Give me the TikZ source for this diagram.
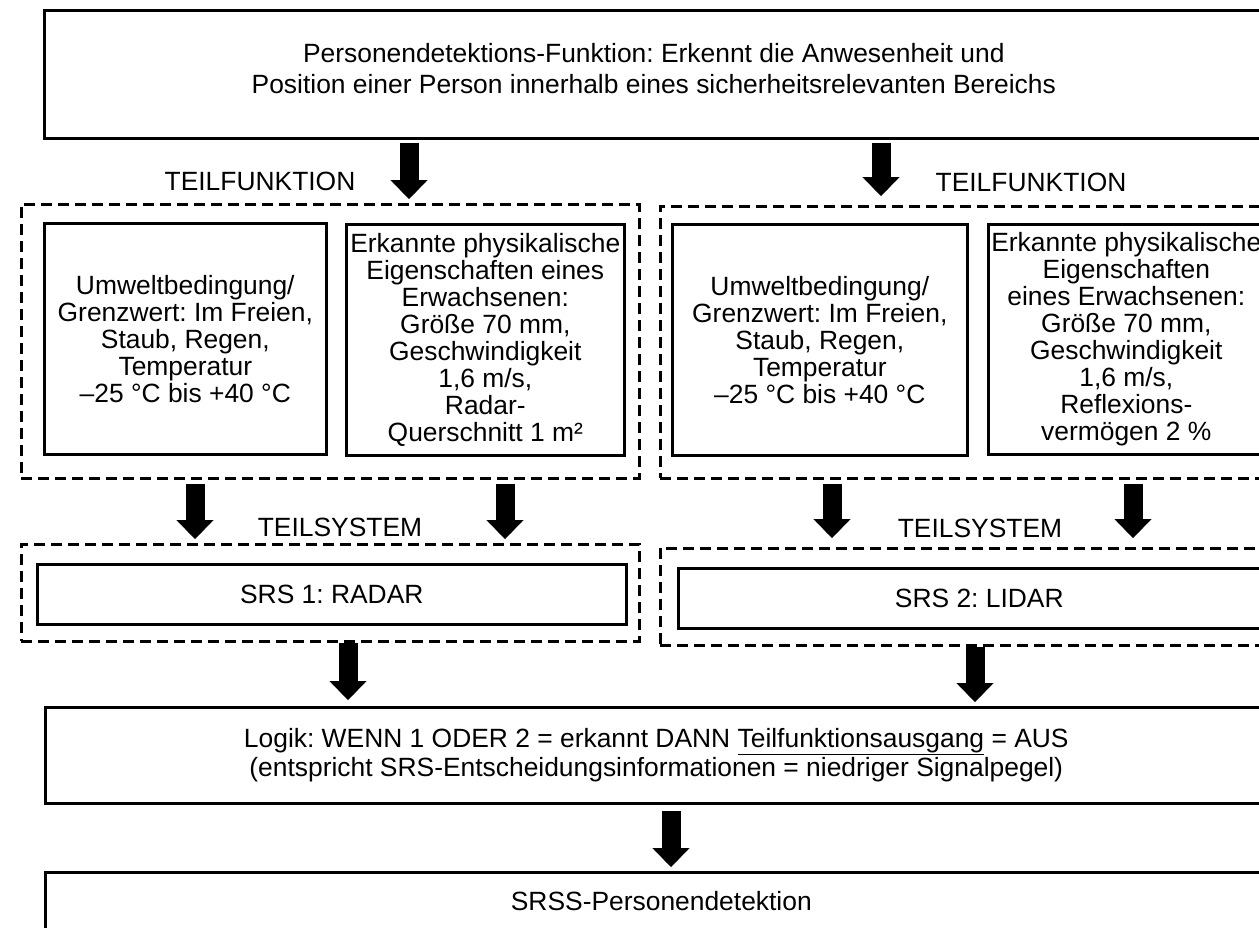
\documentclass[tikz,border=0pt]{standalone}
\usepackage{fontspec}
\setmainfont{Liberation Sans}
\frenchspacing
\usetikzlibrary{arrows.meta}

\begin{document}
\begin{tikzpicture}[x=1pt, y=-1pt,
    box/.style={draw, line width=2.6pt, anchor=north west, align=center, inner sep=0pt, font=\fontsize{26.4}{27}\selectfont},
    dashbox/.style={draw, line width=2.6pt, dash pattern=on 11pt off 6pt, anchor=north west, inner sep=0pt},
    caption/.style={anchor=base, inner sep=0pt, font=\fontsize{26.4}{27}\selectfont},
    fat/.style={line width=19pt, -{Triangle[width=37pt, length=19pt, line width=0.1pt]}}]
  \useasboundingbox (0,0) rectangle (1259,927);
  \clip (0,0) rectangle (1259,927);
  \node[box, font=\fontsize{26.4}{31}\selectfont, minimum width=1219pt, minimum height=128pt, text depth=12pt] (top) at (43,9) {Personendetektions-Funktion: Erkennt die Anwesenheit und\\Position einer Person innerhalb eines sicherheitsrelevanten Bereichs};
  % Teilfunktionen
  \node[dashbox, minimum width=618pt, minimum height=274pt] (tf1) at (20,203) {};
  \node[dashbox, minimum width=640pt, minimum height=272pt] (tf2) at (659,205) {};
  \node[caption] (tflbl1) at (260,190) {TEILFUNKTION};
  \node[caption] (tflbl2) at (1031,191) {TEILFUNKTION};
  \node[box, minimum width=282pt, minimum height=231pt] (umw1) at (43,222) {Umweltbedingung/\\Grenzwert: Im Freien,\\Staub, Regen,\\Temperatur\\–25 °C bis +40 °C};
  \node[box, minimum width=278pt, minimum height=231pt] (eig1) at (345,223) {Erkannte physikalische\\Eigenschaften eines\\Erwachsenen:\\Größe 70 mm,\\Geschwindigkeit\\1,6 m/s,\\Radar-\\Querschnitt 1 m²};
  \node[box, minimum width=295pt, minimum height=231pt] (umw2) at (671,223) {Umweltbedingung/\\Grenzwert: Im Freien,\\Staub, Regen,\\Temperatur\\–25 °C bis +40 °C};
  \node[box, minimum width=276pt, minimum height=230pt] (eig2) at (987,223) {Erkannte physikalische\\Eigenschaften\\eines Erwachsenen:\\Größe 70 mm,\\Geschwindigkeit\\1,6 m/s,\\Reflexions-\\vermögen 2 \%};
  % Teilsysteme
  \node[dashbox, minimum width=618pt, minimum height=97pt] (ts1) at (20,543) {};
  \node[dashbox, minimum width=640pt, minimum height=97pt] (ts2) at (659,547) {};
  \node[caption] (tslbl1) at (340,536) {TEILSYSTEM};
  \node[caption] (tslbl2) at (980,537) {TEILSYSTEM};
  \node[box, minimum width=589pt, minimum height=60pt] (srs1) at (36,563) {SRS 1: RADAR};
  \node[box, minimum width=602pt, minimum height=60pt] (srs2) at (677,567) {SRS 2: LIDAR};
  \node[box, font=\fontsize{26.4}{29}\selectfont, minimum width=1222pt, minimum height=96pt] (logik) at (44,706) {Logik: WENN 1 ODER 2 = erkannt DANN \underline{Teilfunktionsausgang} = AUS\\(entspricht SRS-Entscheidungsinformationen = niedriger Signalpegel)};
  \node[box, minimum width=1232pt, minimum height=100pt, text height=35pt, text depth=58pt] (srss) at (44,871) {SRSS-Personendetektion};
  % Pfeile
  \draw[fat, shorten <=3pt, shorten >=4pt] (top.south -| 409,0) -- (tf1.north -| 409,0);
  \draw[fat, shorten <=3pt, shorten >=9pt] (top.south -| 881,0) -- (tf2.north -| 881,0);
  \draw[fat, shorten <=4pt, shorten >=4pt] (tf1.south -| 195,0) -- (ts1.north -| 195,0);
  \draw[fat, shorten <=4pt, shorten >=4pt] (tf1.south -| 505,0) -- (ts1.north -| 505,0);
  \draw[fat, shorten <=4pt, shorten >=9pt] (tf2.south -| 832,0) -- (ts2.north -| 832,0);
  \draw[fat, shorten <=4pt, shorten >=9pt] (tf2.south -| 1133,0) -- (ts2.north -| 1133,0);
  \draw[fat, shorten >=6pt] (ts1.south -| 348,0) -- (logik.north -| 348,0);
  \draw[fat, shorten >=4pt] (ts2.south -| 975,0) -- (logik.north -| 975,0);
  \draw[fat, shorten <=6pt, shorten >=4pt] (logik.south -| 671,0) -- (srss.north -| 671,0);
\end{tikzpicture}
\end{document}
